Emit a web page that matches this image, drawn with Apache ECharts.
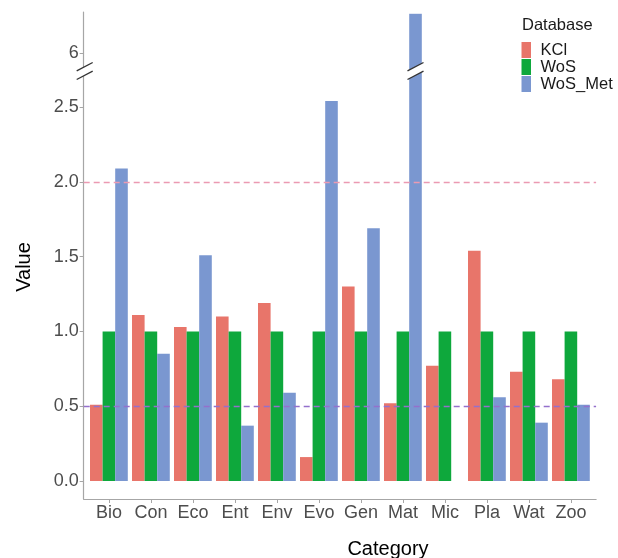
<!DOCTYPE html>
<html>
<head>
<meta charset="utf-8">
<script src="https://cdn.jsdelivr.net/npm/echarts@6.0.0/dist/echarts.min.js"></script>
<style>
  html, body { margin: 0; padding: 0; background: #fff; }
  #main { width: 618px; height: 558px; }
</style>
</head>
<body>
<div id="main"></div>
<script>
// data
var categories = ['Bio', 'Con', 'Eco', 'Ent', 'Env', 'Evo', 'Gen', 'Mat', 'Mic', 'Pla', 'Wat', 'Zoo'];
var kcl    = [0.51, 1.11, 1.03, 1.10, 1.19, 0.16, 1.30, 0.52, 0.77, 1.54, 0.73, 0.68];
var wos    = [1.00, 1.00, 1.00, 1.00, 1.00, 1.00, 1.00, 1.00, 1.00, 1.00, 1.00, 1.00];
var wosMet = [2.09, 0.85, 1.51, 0.37, 0.59, 2.54, 1.69, 6.22, null, 0.56, 0.39, 0.51];
var seriesNames = ['KCl', 'WoS', 'WoS_Met'];
var refLines = [2.0, 0.5];
var lowTicks = [0, 0.5, 1.0, 1.5, 2.0, 2.5];
var highTicks = [6];

var colors = ['#e8756a', '#0ea83c', '#7a97d0'];
var lowMin = -0.1203, lowMax = 2.741;   // lower panel
var highMin = 5.9, highMax = 6.23;       // upper panel (after the break)

var chart = echarts.init(document.getElementById('main'));

function pairs(vals, keep) {
    return vals.map(function (v, i) {
        return [i + 1, (v != null && keep(v)) ? v : '-'];
    });
}

var tickFont = { color: '#4d4d4d', fontSize: 18, fontFamily: 'Liberation Sans' };

var series = [];
[kcl, wos, wosMet].forEach(function (vals, k) {
    // upper panel
    series.push({
        type: 'bar', name: seriesNames[k], xAxisIndex: 0, yAxisIndex: 0,
        barWidth: 12.6, barGap: '0%', clip: true,
        itemStyle: { color: colors[k] },
        data: pairs(vals, function (v) { return v > highMin; })
    });
    // lower panel
    var s = {
        type: 'bar', name: seriesNames[k], xAxisIndex: 1, yAxisIndex: 1,
        barWidth: 12.6, barGap: '0%', clip: true,
        itemStyle: { color: colors[k] },
        data: pairs(vals, function () { return true; })
    };
    if (k === 0) {
        s.markLine = {
            silent: true, symbol: 'none', label: { show: false },
            data: [
                { yAxis: refLines[0], lineStyle: { color: '#eb9ab2', type: [6, 4], width: 1.3 } },
                { yAxis: refLines[1], lineStyle: { color: '#9470cc', type: [6, 4], width: 1.3 } }
            ]
        };
    }
    series.push(s);
});

var xBase = {
    type: 'value', min: 0.4, max: 12.6,
    splitLine: { show: false }
};
var catTicks = categories.map(function (c, i) { return i + 1; });

chart.setOption({
    animation: false,
    backgroundColor: '#fff',
    textStyle: { fontFamily: 'Liberation Sans' },
    grid: [
        { left: 83.7, width: 512.4, top: 12, height: 59, outerBoundsMode: 'none', containLabel: false },
        { left: 83.7, width: 512.4, top: 71, height: 428, outerBoundsMode: 'none', containLabel: false }
    ],
    legend: {
        data: seriesNames,
        orient: 'vertical', left: 521.5, top: 41.5, padding: 0,
        itemWidth: 9.5, itemHeight: 16, itemGap: 0,
        icon: 'rect',
        formatter: ' {name}',
        textStyle: { color: '#1a1a1a', fontSize: 16.5 }
    },
    xAxis: [
        Object.assign({ gridIndex: 0, show: false }, xBase),
        Object.assign({
            gridIndex: 1,
            axisLine: { onZero: false, lineStyle: { color: '#a6a6a6', width: 1.2 } },
            axisTick: { customValues: catTicks, length: 4, lineStyle: { color: '#a6a6a6' } },
            axisLabel: Object.assign({
                customValues: catTicks,
                margin: 5,
                formatter: function (v) { return categories[Math.round(v) - 1]; }
            }, tickFont)
        }, xBase)
    ],
    yAxis: [
        {
            type: 'value', gridIndex: 0, min: highMin, max: highMax,
            splitLine: { show: false },
            axisLine: { show: true, onZero: false, lineStyle: { color: '#a6a6a6', width: 1.2 } },
            axisTick: { show: true, customValues: highTicks, length: 4, lineStyle: { color: '#a6a6a6' } },
            axisLabel: Object.assign({ customValues: highTicks, margin: 5 }, tickFont)
        },
        {
            type: 'value', gridIndex: 1, min: lowMin, max: lowMax,
            splitLine: { show: false },
            axisLine: { show: true, onZero: false, lineStyle: { color: '#a6a6a6', width: 1.2 } },
            axisTick: { show: true, customValues: lowTicks, length: 4, lineStyle: { color: '#a6a6a6' } },
            axisLabel: Object.assign({
                customValues: lowTicks, margin: 5,
                formatter: function (v) { return v.toFixed(1); }
            }, tickFont)
        }
    ],
    series: series
});

// break marks: on the y axis and on the bar that runs through the break
function breakMark(cx, cy) {
    var a = [cx - 8, cy - 0.2], b = [cx + 8, cy - 8.5];
    var c = [cx + 8, cy + 0.2], d = [cx - 8, cy + 8.5];
    return [
        { type: 'polygon', shape: { points: [a, b, c, d] }, style: { fill: '#fff' }, z: 100 },
        { type: 'line', shape: { x1: a[0], y1: a[1], x2: b[0], y2: b[1] }, style: { stroke: '#333', lineWidth: 1.3 }, z: 101 },
        { type: 'line', shape: { x1: d[0], y1: d[1], x2: c[0], y2: c[1] }, style: { stroke: '#333', lineWidth: 1.3 }, z: 101 }
    ];
}

var junction = chart.convertToPixel({ xAxisIndex: 1, yAxisIndex: 1 }, [0.4, lowMax]);
var elements = breakMark(junction[0] + 1, junction[1]);
var metData = chart.getModel().getSeriesByIndex(5).getData();
wosMet.forEach(function (v, i) {
    if (v != null && v > lowMax) {
        var lay = metData.getItemLayout(i);
        elements = elements.concat(breakMark(lay.x + lay.width / 2, junction[1]));
    }
});
elements.push({
    type: 'text', left: 522, top: 17,
    style: { text: 'Database', fill: '#1a1a1a', fontSize: 16.5, fontFamily: 'Liberation Sans' }
});
elements.push({
    type: 'text', x: 388, y: 549,
    style: { text: 'Category', fill: '#000', fontSize: 20, fontFamily: 'Liberation Sans', align: 'center', verticalAlign: 'middle' }
});
elements.push({
    type: 'text', x: 24, y: 267, rotation: Math.PI / 2,
    style: { text: 'Value', fill: '#000', fontSize: 20, fontFamily: 'Liberation Sans', align: 'center', verticalAlign: 'middle' }
});
chart.setOption({ graphic: elements });
</script>
</body>
</html>
